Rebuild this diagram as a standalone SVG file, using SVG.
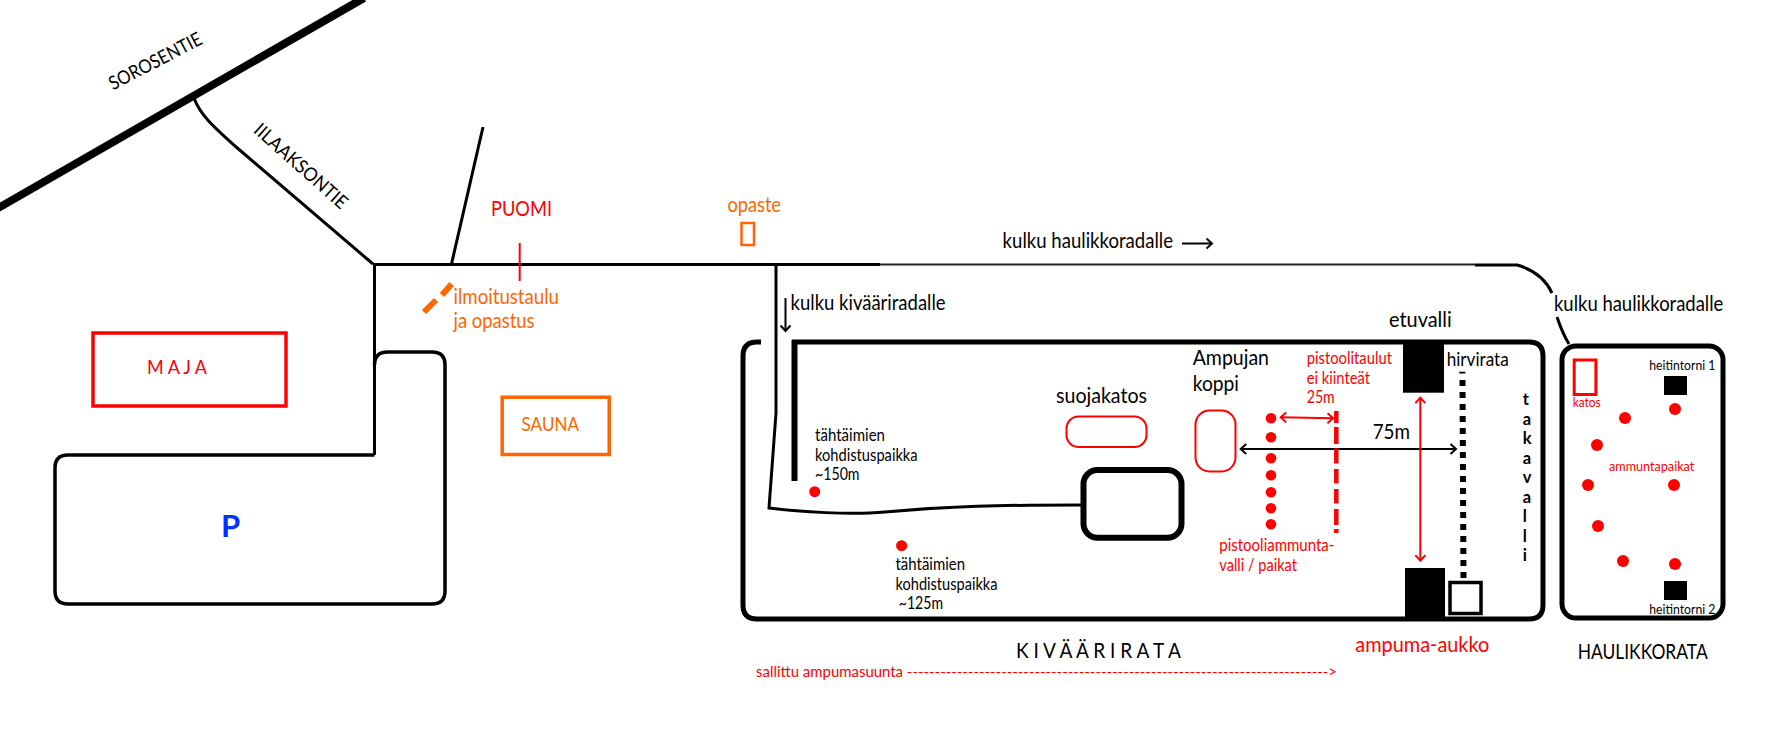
<svg xmlns="http://www.w3.org/2000/svg" width="1772" height="736" viewBox="0 0 1772 736">
<style>
text{font-family:"Lato","Carlito","Noto Sans",sans-serif;fill:#000}
.r{fill:#ff0000}.o{fill:#ff6600}
.s20{font-size:21px}.s18{font-size:19px}.s15{font-size:16.500px}.s13{font-size:14px}
.road{fill:none;stroke:#000;stroke-width:3}
.rb{fill:none;stroke:#ff0000;stroke-width:2}
.dot{fill:#ff0000}
.blk{fill:#000}
.wall{fill:none;stroke:#000;stroke-width:5}
</style>
<defs>
<marker id="ab" viewBox="0 0 12 12" refX="10.500" refY="6" markerWidth="12" markerHeight="12" markerUnits="userSpaceOnUse" orient="auto-start-reverse"><path d="M5 1 L10.500 6 L5 11" fill="none" stroke="#000" stroke-width="2"/></marker>
<marker id="ar" viewBox="0 0 12 12" refX="10.500" refY="6" markerWidth="12" markerHeight="12" markerUnits="userSpaceOnUse" orient="auto-start-reverse"><path d="M5 1 L10.500 6 L5 11" fill="none" stroke="#ff0000" stroke-width="2"/></marker>
</defs>
<g id="connectors">
<path d="M-4 209.300 L364 -2" fill="none" stroke="#000" stroke-width="8"/>
<path class="road" d="M194 98 C200 115 215 128 235 146 L373 264"/>
<path class="road" d="M373 264.500 H880"/>
<path fill="none" stroke="#222" stroke-width="2" d="M880 264.500 H1475"/>
<path class="road" d="M1475 265 H1517 C1535 270 1546 280 1552 293"/>
<path class="road" d="M1557 317 C1560 326 1564 336 1569 344"/>
<path class="road" d="M483 127 L451.500 264"/>
<path class="road" d="M374.500 264 V455"/>
<path class="road" d="M776 264 V413 L769 508 C800 512 850 515 885 512 C950 506 1000 505 1081 505"/>
<path fill="none" stroke="#000" stroke-width="2" marker-end="url(#ab)" d="M785.500 298 V331"/>
<path fill="none" stroke="#000" stroke-width="2" marker-end="url(#ab)" d="M1182 243.500 H1212"/>
<path fill="none" stroke="#000" stroke-width="2" marker-start="url(#ab)" marker-end="url(#ab)" d="M1240.700 449 H1456"/>
<path class="rb" marker-start="url(#ar)" marker-end="url(#ar)" d="M1280.700 417.300 L1333 418.300"/>
<path class="rb" marker-start="url(#ar)" marker-end="url(#ar)" d="M1420.300 397.700 V560.700"/>
</g>
<g id="road-labels">
<text class="s18" transform="translate(113 90.500) rotate(-27.500)" textLength="102" lengthAdjust="spacingAndGlyphs">SOROSENTIE</text>
<text class="s18" transform="translate(252.600 131.700) rotate(41.700)" textLength="118" lengthAdjust="spacingAndGlyphs">IILAAKSONTIE</text>
<text class="s20" x="1002.600" y="248" textLength="170.400" lengthAdjust="spacingAndGlyphs">kulku haulikkoradalle</text>
<text class="s20" x="790.600" y="310" textLength="155" lengthAdjust="spacingAndGlyphs">kulku kivääriradalle</text>
<text class="s20" x="1554" y="310.700" textLength="169.300" lengthAdjust="spacingAndGlyphs">kulku haulikkoradalle</text>
</g>
<g id="puomi">
<path fill="none" stroke="#ff0000" stroke-width="2" d="M519.700 243 V281"/>
<text class="r s20" x="491" y="216" textLength="61" lengthAdjust="spacingAndGlyphs">PUOMI</text>
</g>
<g id="ilmoitustaulu">
<path fill="none" stroke="#ff6600" stroke-width="6" d="M451.600 284 L442 295 M436 300 L424 312"/>
<text class="o s20" x="453.500" y="304" textLength="105.500" lengthAdjust="spacingAndGlyphs">ilmoitustaulu</text>
<text class="o s20" x="453.500" y="328" textLength="81" lengthAdjust="spacingAndGlyphs">ja opastus</text>
</g>
<g id="opaste">
<rect x="741.500" y="223" width="12.500" height="22" fill="none" stroke="#ff6600" stroke-width="2.500"/>
<text class="o s20" x="727.400" y="212" textLength="53.600" lengthAdjust="spacingAndGlyphs">opaste</text>
</g>
<g id="maja">
<rect x="93" y="333" width="193" height="73" fill="none" stroke="#ff0000" stroke-width="3.500"/>
<text class="r s18" x="147" y="374" textLength="60" lengthAdjust="spacingAndGlyphs">M A J A</text>
</g>
<g id="parkki">
<path fill="none" stroke="#000" stroke-width="3.500" d="M374.500 455 H68 Q55 455 55 468 V591 Q55 604 68 604 H432 Q445 604 445 591 V365 Q445 352 432 352 H387.500 Q374.500 352 374.500 365"/>
<text x="221" y="537" style="fill:#0033ff;font-size:31px;font-weight:700">P</text>
</g>
<g id="sauna">
<rect x="502.200" y="397.200" width="107" height="57.300" fill="none" stroke="#ff6600" stroke-width="3.500"/>
<text class="o s18" x="521.600" y="431" textLength="57.400" lengthAdjust="spacingAndGlyphs">SAUNA</text>
</g>
<g id="kivaarirata">
<path class="wall" d="M761 342 H757 Q743 342 743 356 V605 Q743 619 757 619 H1529 Q1543 619 1543 605 V356 Q1543 342 1529 342 H792"/>
<path fill="none" stroke="#000" stroke-width="6" d="M794.500 340 V481"/>
<text class="s15" x="815" y="440.700" textLength="70" lengthAdjust="spacingAndGlyphs">tähtäimien</text>
<text class="s15" x="815" y="460.700" textLength="102.600" lengthAdjust="spacingAndGlyphs">kohdistuspaikka</text>
<text class="s15" x="815" y="480" textLength="44.500" lengthAdjust="spacingAndGlyphs">~150m</text>
<circle class="dot" cx="814.700" cy="491.700" r="5.500"/>
<circle class="dot" cx="901.600" cy="545.700" r="5.500"/>
<text class="s15" x="895.500" y="570" textLength="69.500" lengthAdjust="spacingAndGlyphs">tähtäimien</text>
<text class="s15" x="895.500" y="590" textLength="102" lengthAdjust="spacingAndGlyphs">kohdistuspaikka</text>
<text class="s15" x="898.800" y="609" textLength="44.200" lengthAdjust="spacingAndGlyphs">~125m</text>
<text class="s20" x="1016" y="658" textLength="165" lengthAdjust="spacingAndGlyphs">K I V Ä Ä R I R A T A</text>
<text class="r" style="font-size:15.500px" x="756" y="677" textLength="581" lengthAdjust="spacingAndGlyphs">sallittu ampumasuunta ----------------------------------------------------------------------------&gt;</text>
</g>
<g id="suojakatos">
<rect x="1066.500" y="416.500" width="80" height="30.500" rx="12" fill="none" stroke="#ff0000" stroke-width="2"/>
<text class="s20" x="1056" y="403" textLength="91" lengthAdjust="spacingAndGlyphs">suojakatos</text>
</g>
<g id="kohdistus-kivi">
<rect x="1083.500" y="470" width="98" height="67.700" rx="14" fill="none" stroke="#000" stroke-width="6"/>
</g>
<g id="ampujan-koppi">
<rect x="1195.500" y="410.500" width="40" height="61" rx="14" fill="none" stroke="#ff0000" stroke-width="2"/>
<text class="s20" x="1192.700" y="365" textLength="76.300" lengthAdjust="spacingAndGlyphs">Ampujan</text>
<text class="s20" x="1192.700" y="390.700" textLength="46.300" lengthAdjust="spacingAndGlyphs">koppi</text>
</g>
<g id="pistooli">
<circle class="dot" cx="1271" cy="418.300" r="5.300"/>
<circle class="dot" cx="1271" cy="437.300" r="5.300"/>
<circle class="dot" cx="1271" cy="458.300" r="5.300"/>
<circle class="dot" cx="1271" cy="475.300" r="5.300"/>
<circle class="dot" cx="1271" cy="492.300" r="5.300"/>
<circle class="dot" cx="1271" cy="508.300" r="5.300"/>
<circle class="dot" cx="1271" cy="524.300" r="5.300"/>
<path fill="none" stroke="#ff0000" stroke-width="4.500" stroke-dasharray="12 4 17 4.500 15 5.500 14.500 5.500 14.500 5.500 16 4 4 100" d="M1336.300 411 V533"/>
<text class="r s15" x="1306.700" y="364" textLength="85.300" lengthAdjust="spacingAndGlyphs">pistoolitaulut</text>
<text class="r s15" x="1306.700" y="384" textLength="63.300" lengthAdjust="spacingAndGlyphs">ei kiinteät</text>
<text class="r s15" x="1306.700" y="403" textLength="28" lengthAdjust="spacingAndGlyphs">25m</text>
<text class="r s15" x="1219.300" y="550.700" textLength="115" lengthAdjust="spacingAndGlyphs">pistooliammunta-</text>
<text class="r s15" x="1219.300" y="570.700" textLength="77.700" lengthAdjust="spacingAndGlyphs">valli / paikat</text>
</g>
<g id="etuvalli">
<rect class="blk" x="1403" y="341" width="41" height="51.700"/>
<rect class="blk" x="1405" y="568" width="40" height="52"/>
<text class="s20" x="1389" y="326.700" textLength="62.700" lengthAdjust="spacingAndGlyphs">etuvalli</text>
<text class="s20" x="1372.700" y="439" textLength="37.300" lengthAdjust="spacingAndGlyphs">75m</text>
<text class="r s20" x="1355.300" y="651.700" textLength="134" lengthAdjust="spacingAndGlyphs">ampuma-aukko</text>
</g>
<g id="hirvirata">
<path fill="none" stroke="#000" stroke-width="6" d="M1462.300 371.700 V373.500"/>
<path fill="none" stroke="#000" stroke-width="6" stroke-dasharray="6 6" d="M1462.500 380 L1463.500 578"/>
<rect x="1450" y="582.500" width="31" height="31" fill="#fff" stroke="#000" stroke-width="3.500"/>
<text class="s18" x="1446.700" y="366" textLength="62" lengthAdjust="spacingAndGlyphs">hirvirata</text>
</g>
<g id="takavalli">
<text style="font-size:16.500px;font-weight:700"><tspan x="1522.700" y="405">t</tspan><tspan x="1522.700" y="425">a</tspan><tspan x="1522.700" y="444.300">k</tspan><tspan x="1522.700" y="464">a</tspan><tspan x="1522.700" y="483.300">v</tspan><tspan x="1522.700" y="503.300">a</tspan><tspan x="1522.700" y="522">l</tspan><tspan x="1522.700" y="541.700">l</tspan><tspan x="1522.700" y="561">i</tspan></text>
</g>
<g id="haulikkorata">
<rect class="wall" x="1562" y="346" width="161" height="272" rx="14"/>
<rect x="1574.200" y="360" width="21.700" height="34.500" fill="none" stroke="#ff0000" stroke-width="3"/>
<text class="r s13" x="1572.700" y="406.700" textLength="28" lengthAdjust="spacingAndGlyphs">katos</text>
<rect class="blk" x="1664" y="376" width="23" height="19"/>
<rect class="blk" x="1664" y="581" width="23" height="19"/>
<text class="s13" x="1649.300" y="370" textLength="66" lengthAdjust="spacingAndGlyphs">heitintorni 1</text>
<text class="s13" x="1649.300" y="614" textLength="66" lengthAdjust="spacingAndGlyphs">heitintorni 2</text>
<circle class="dot" cx="1675" cy="409" r="6"/>
<circle class="dot" cx="1625" cy="418" r="6"/>
<circle class="dot" cx="1597" cy="445" r="6"/>
<circle class="dot" cx="1588" cy="485" r="6"/>
<circle class="dot" cx="1674" cy="485" r="6"/>
<circle class="dot" cx="1598" cy="526" r="6"/>
<circle class="dot" cx="1623" cy="561" r="6"/>
<circle class="dot" cx="1675" cy="564" r="6"/>
<text class="r s13" x="1609" y="471" textLength="85.300" lengthAdjust="spacingAndGlyphs">ammuntapaikat</text>
<text class="s20" x="1577.700" y="659" textLength="130" lengthAdjust="spacingAndGlyphs">HAULIKKORATA</text>
</g>
</svg>
